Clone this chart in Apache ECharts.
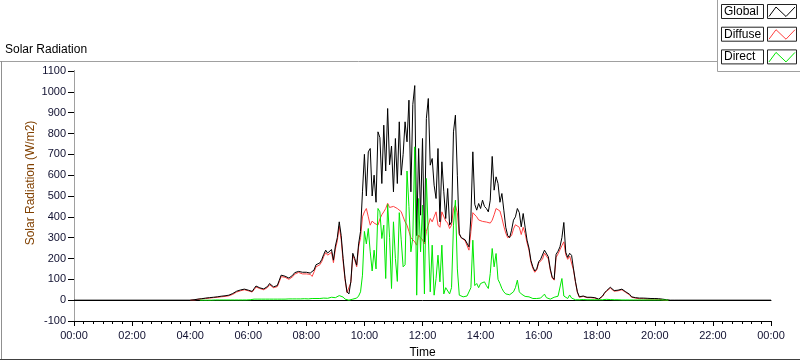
<!DOCTYPE html>
<html><head><meta charset="utf-8">
<script src="https://cdn.jsdelivr.net/npm/echarts@6/dist/echarts.min.js"></script>
<style>html,body{margin:0;padding:0;background:#fff}#c{width:800px;height:361px}</style>
</head><body><div id="c"></div>
<script>
// ---- data ----
const seriesNames = ['Global', 'Diffuse', 'Direct'];
const startMinute = 240;   // 04:00
const stepMinutes = 4;
const globalValues = [
0,0,2,4,5,6,7,8,10,11,
12,13,14,15,16,18,19,20,21,22,
24,27,32,38,43,47,49,52,53,52,
48,43,42,55,68,66,59,56,54,55,
66,80,74,64,65,70,95,120,120,115,
112,106,108,120,132,139,138,136,134,131,
134,139,130,122,145,170,176,179,196,220,
240,226,235,243,192,260,300,376,310,200,
105,40,30,90,225,200,168,270,330,520,
700,500,712,728,500,600,470,808,780,560,
840,620,920,650,740,520,776,560,856,600,
700,856,760,960,520,940,1030,310,728,408,
776,280,872,968,648,680,552,488,728,376,
664,520,392,536,360,376,808,888,600,320,
300,296,290,288,256,400,712,460,432,464,
440,480,450,440,424,480,690,528,592,560,
470,512,432,350,310,300,336,384,400,440,
420,352,416,350,288,250,190,160,140,150,
184,196,205,240,240,208,150,110,100,220,
235,256,300,373,230,205,225,215,150,90,
40,16,14,20,20,14,10,14,18,12,
7,5,10,20,35,45,48,62,55,46,
42,48,55,53,46,40,35,28,16,14,
12,11,10,10,10,10,9,9,8,8,
8,7,7,6,5,4,2,0,0,0,
0,0,0];
const diffuseValues = [
0,0,1,3,4,5,6,7,8,9,
10,11,12,13,14,15,16,17,18,19,
21,24,28,34,39,43,45,48,50,49,
45,40,39,50,63,62,56,52,50,51,
61,74,70,60,61,65,88,113,114,110,
106,100,102,113,125,132,133,128,126,122,
126,133,124,114,136,160,168,170,186,210,
228,216,222,230,180,245,285,355,290,185,
98,36,28,85,215,192,160,255,300,400,
424,440,400,360,380,370,365,360,390,410,
424,440,465,445,440,450,445,440,445,425,
400,376,360,330,300,296,280,264,312,300,
290,270,330,360,392,376,400,424,360,350,
424,430,380,370,344,360,440,456,420,315,
300,292,285,282,240,330,420,425,400,385,
380,378,372,375,368,370,384,410,440,445,
428,395,355,322,300,292,310,342,362,368,
350,315,350,320,275,240,182,152,134,145,
178,188,198,226,230,198,144,106,96,205,
222,242,262,280,218,196,212,204,144,86,
37,14,12,18,18,12,8,12,16,10,
5,4,8,18,32,42,45,58,52,43,
38,45,52,50,43,37,32,25,14,12,
10,8,7,6,7,6,5,6,5,4,
5,4,4,3,2,1,0,0,null,null,
null,null,null];
const directValues = [
null,null,null,null,null,0,0,0,0,0,
0,0,1,1,1,1,1,1,1,1,
1,1,1,1,1,1,1,1,1,1,
1,2,4,5,5,5,5,5,5,5,
5,5,5,5,5,5,5,5,5,5,
5,6,6,6,9,6,6,6,6,7,
7,6,8,8,7,8,10,8,9,10,
14,9,10,14,9,12,16,22,27,15,
5,2,0,3,5,5,10,20,40,120,
330,270,344,232,140,240,150,440,424,296,
360,104,460,300,56,376,200,90,420,290,
160,170,620,450,232,300,736,24,488,232,
456,30,584,584,40,264,24,104,216,88,
264,30,60,56,30,60,360,480,150,24,
20,16,16,20,15,60,288,70,80,60,
80,72,88,70,56,128,248,160,224,100,
80,56,40,30,28,26,30,40,60,96,
40,30,24,18,16,16,14,8,8,8,
8,10,16,29,12,6,5,5,14,12,
19,14,104,20,14,8,25,10,3,2,
2,2,4,3,2,2,3,2,2,2,
3,2,2,2,3,4,3,3,2,2,
5,2,2,1,1,1,1,1,1,1,
1,1,1,1,1,1,1,1,1,1,
1,1,1,1,1,1,0,0,null,null,
null,null,null];
const seriesColors = ['#000000', '#ff4040', '#00e800'];

// ---- chart ----
const times = globalValues.map((_, i) => startMinute + i * stepMinutes);
const pair = arr => arr.map((v, i) => [times[i], v]);
const globalData = [[0, 0]].concat(pair(globalValues), [[1440, 0]]);
const pad = n => (n < 10 ? '0' : '') + n;
const fmtTime = v => pad(Math.floor(v / 60) % 24) + ':' + pad(v % 60);
const FONT = 'Liberation Sans';
const labelColor = '#101030';

const chart = echarts.init(document.getElementById('c'));
const legendItems = [];
seriesNames.forEach((name, k) => {
  const y0 = 4 + k * 22.7;
  legendItems.push(
    {type: 'rect', shape: {x: 721.5, y: y0 + 0.5, width: 42, height: 14}, style: {fill: '#fff', stroke: '#222', lineWidth: 1}, z: 101},
    {type: 'text', x: 724, y: y0 + 7.5, style: {text: name, font: '12px ' + FONT, fill: '#000', verticalAlign: 'middle', align: 'left'}, z: 102},
    {type: 'rect', shape: {x: 767.5, y: y0 + 0.5, width: 29, height: 14}, style: {fill: '#fff', stroke: '#222', lineWidth: 1}, z: 101},
    {type: 'polyline', shape: {points: [[769, y0 + 12.5], [776, y0 + 3], [786, y0 + 12.5], [795, y0 + 3]]}, style: {stroke: seriesColors[k], lineWidth: 1, fill: null}, z: 102}
  );
});

chart.setOption({
  animation: false,
  backgroundColor: '#fff',
  grid: {left: 74, top: 71, width: 697, height: 250, show: false, containLabel: false, outerBoundsMode: 'none'},
  xAxis: [{
    type: 'value', min: 0, max: 1440, interval: 120,
    name: 'Time', nameLocation: 'middle', nameGap: 26,
    nameTextStyle: {color: '#000', fontSize: 12, fontFamily: FONT},
    axisLine: {show: true, onZero: false, lineStyle: {color: '#000', width: 1}},
    axisTick: {show: true, length: 5, lineStyle: {color: '#000'}},
    minorTick: {show: true, splitNumber: 6, length: 3, lineStyle: {color: '#000'}},
    axisLabel: {margin: 9, color: labelColor, fontSize: 11, fontFamily: FONT, formatter: fmtTime, showMinLabel: true, showMaxLabel: true},
    splitLine: {show: false}, minorSplitLine: {show: false}
  }, {
    type: 'value', min: 0, max: 1440, position: 'top',
    axisLine: {show: true, lineStyle: {color: '#000', width: 1}},
    axisTick: {show: false}, axisLabel: {show: false}, splitLine: {show: false}
  }],
  yAxis: [{
    type: 'value', min: -100, max: 1100, interval: 100,
    axisLine: {show: true, onZero: false, lineStyle: {color: '#000', width: 1}},
    axisTick: {show: true, length: 6, lineStyle: {color: '#000'}},
    axisLabel: {margin: 8, color: labelColor, fontSize: 11, fontFamily: FONT, formatter: v => String(v)},
    splitLine: {show: false}
  }, {
    type: 'value', min: -100, max: 1100, position: 'right',
    axisLine: {show: true, lineStyle: {color: '#a0a0a0', width: 1}},
    axisTick: {show: false}, axisLabel: {show: false}, splitLine: {show: false}
  }],
  series: [
    {name: seriesNames[1], type: 'line', data: pair(diffuseValues), showSymbol: false, connectNulls: false,
     lineStyle: {color: seriesColors[1], width: 1}, itemStyle: {color: seriesColors[1]}, z: 2},
    {name: seriesNames[0], type: 'line', data: globalData, showSymbol: false,
     lineStyle: {color: seriesColors[0], width: 1}, itemStyle: {color: seriesColors[0]}, z: 3},
    {name: seriesNames[2], type: 'line', data: pair(directValues), showSymbol: false, connectNulls: false,
     lineStyle: {color: seriesColors[2], width: 1}, itemStyle: {color: seriesColors[2]}, z: 4}
  ],
  graphic: [
    {type: 'line', shape: {x1: 0, y1: 61.5, x2: 717, y2: 61.5}, style: {stroke: '#a0a0a0', lineWidth: 1}, z: 90},
    {type: 'line', shape: {x1: 1.5, y1: 61, x2: 1.5, y2: 360}, style: {stroke: '#909090', lineWidth: 1}, z: 90},
    {type: 'line', shape: {x1: 0, y1: 359.5, x2: 800, y2: 359.5}, style: {stroke: '#404040', lineWidth: 1}, z: 90},
    {type: 'text', x: 5, y: 50, style: {text: 'Solar Radiation', font: '12px ' + FONT, fill: '#000', verticalAlign: 'middle'}, z: 90},
    {type: 'text', x: 31, y: 183, rotation: Math.PI / 2,
     style: {text: 'Solar Radiation (W/m2)', font: '12px ' + FONT, fill: '#804000', align: 'center', verticalAlign: 'middle'}, z: 90},
    {type: 'rect', shape: {x: 717.5, y: -1, width: 90, height: 72.5}, style: {fill: '#fff', stroke: '#a0a0a0', lineWidth: 1}, z: 100}
  ].concat(legendItems)
});
</script></body></html>
